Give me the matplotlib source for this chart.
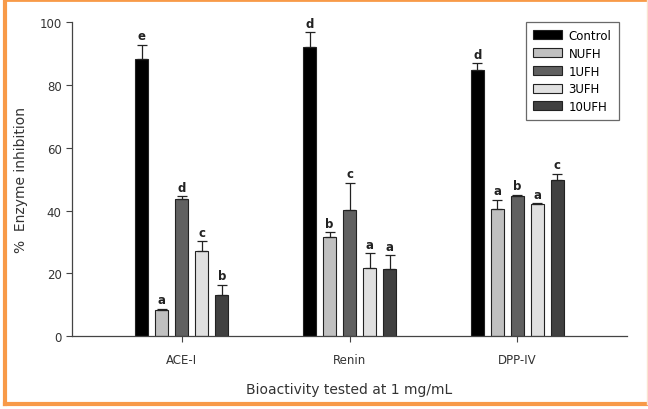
import numpy as np
import matplotlib.pyplot as plt
from matplotlib.lines import Line2D

# data
groups = ["ACE-I", "Renin", "DPP-IV"]
series = ["Control", "NUFH", "1UFH", "3UFH", "10UFH"]
colors = ["#000000", "#c0c0c0", "#606060", "#e0e0e0", "#404040"]

control = [88.2, 92.0, 84.9]
nufh = [8.2, 31.7, 40.6]
ufh1 = [43.8, 40.1, 44.8]
ufh3 = [27.1, 21.7, 42.0]
ufh10 = [13.0, 21.3, 49.7]

control_err = [4.7, 4.8, 2.0]
nufh_err = [0.5, 1.4, 2.9]
ufh1_err = [0.8, 8.8, 0.3]
ufh3_err = [3.1, 4.7, 0.3]
ufh10_err = [3.3, 4.4, 2.1]

control_sig = ["e", "d", "d"]
nufh_sig = ["a", "b", "a"]
ufh1_sig = ["d", "c", "b"]
ufh3_sig = ["c", "a", "a"]
ufh10_sig = ["b", "a", "c"]

values = [control, nufh, ufh1, ufh3, ufh10]
errors = [control_err, nufh_err, ufh1_err, ufh3_err, ufh10_err]
letters = [control_sig, nufh_sig, ufh1_sig, ufh3_sig, ufh10_sig]

fig = plt.figure(figsize=(6.48, 4.10), dpi=100)
ax = fig.add_axes([0.111, 0.178, 0.857, 0.765])

x = np.arange(len(groups))
step = 0.119
width = 0.078

for i, name in enumerate(series):
    pos = x + (i - 2) * step
    ax.bar(pos, values[i], width, color=colors[i], edgecolor="#222222",
           linewidth=0.8, label=name, zorder=2)
    ax.errorbar(pos, values[i], yerr=[np.zeros(3), errors[i]], fmt="none",
                ecolor="#222222", elinewidth=0.9, capsize=3.5, capthick=0.9,
                zorder=3)
    for px, v, e, s in zip(pos, values[i], errors[i], letters[i]):
        ax.text(px, v + e + 0.8, s, ha="center", va="bottom",
                fontsize=8.5, fontweight="bold", color="#222222")

ax.set_xlim(-0.655, 2.655)
ax.set_ylim(0, 100)
ax.set_yticks([0, 20, 40, 60, 80, 100])
ax.set_xticks(x)
ax.set_xticklabels(groups)
ax.spines["top"].set_visible(False)
ax.spines["right"].set_visible(False)
for sp in ["left", "bottom"]:
    ax.spines[sp].set_color("#444444")
    ax.spines[sp].set_linewidth(0.9)
ax.tick_params(direction="out", length=4, width=0.8, colors="#444444",
               labelsize=8.5, labelcolor="#333333")
ax.tick_params(axis="x", pad=8)

ax.set_ylabel("%  Enzyme inhibition", fontsize=10, color="#333333", labelpad=8)
ax.set_xlabel("Bioactivity tested at 1 mg/mL", fontsize=10, color="#333333",
              labelpad=12)

leg = ax.legend(loc="upper right", bbox_to_anchor=(0.995, 1.02), fontsize=8.5,
                frameon=True, fancybox=False, edgecolor="#444444",
                handlelength=2.4, handleheight=0.8, labelspacing=0.4,
                borderpad=0.6, handletextpad=0.6)
leg.get_frame().set_linewidth(0.9)

# orange frame around the figure (left/bottom heavier, right faint)
orange = "#f89a48"
fig.add_artist(Line2D([0.008, 0.008], [0.012, 0.998], color=orange, lw=3,
                      transform=fig.transFigure))
fig.add_artist(Line2D([0.008, 0.998], [0.012, 0.012], color=orange, lw=3,
                      transform=fig.transFigure))
fig.add_artist(Line2D([0.008, 0.998], [0.997, 0.997], color=orange, lw=2,
                      transform=fig.transFigure))
fig.add_artist(Line2D([0.998, 0.998], [0.012, 0.997], color="#fbe3cf", lw=1,
                      transform=fig.transFigure))

fig.savefig("out.png", dpi=100)
